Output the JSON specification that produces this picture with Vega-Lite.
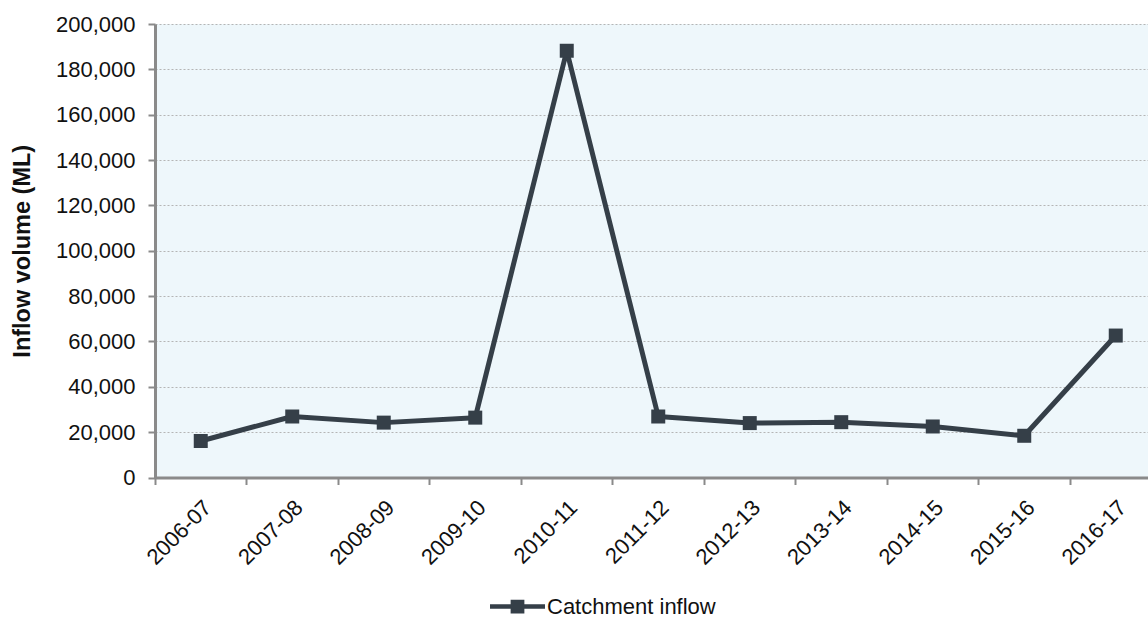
{
  "$schema": "https://vega.github.io/schema/vega-lite/v6.json",
  "autosize": {"type": "none"},
  "padding": {"left": 155, "top": 24, "right": 0, "bottom": 140},
  "width": 1006.5,
  "height": 453.5,
  "background": "white",
  "config": {
    "view": {"fill": "#eef7fb", "stroke": null},
    "font": "Liberation Sans"
  },
  "data": {
    "values": [
      {"year": "2006-07", "inflow": 16100, "series": "Catchment inflow"},
      {"year": "2007-08", "inflow": 26900, "series": "Catchment inflow"},
      {"year": "2008-09", "inflow": 24200, "series": "Catchment inflow"},
      {"year": "2009-10", "inflow": 26400, "series": "Catchment inflow"},
      {"year": "2010-11", "inflow": 188200, "series": "Catchment inflow"},
      {"year": "2011-12", "inflow": 26900, "series": "Catchment inflow"},
      {"year": "2012-13", "inflow": 24000, "series": "Catchment inflow"},
      {"year": "2013-14", "inflow": 24400, "series": "Catchment inflow"},
      {"year": "2014-15", "inflow": 22500, "series": "Catchment inflow"},
      {"year": "2015-16", "inflow": 18400, "series": "Catchment inflow"},
      {"year": "2016-17", "inflow": 62600, "series": "Catchment inflow"}
    ]
  },
  "encoding": {
    "x": {
      "field": "year",
      "type": "ordinal",
      "scale": {"type": "band", "paddingInner": 0, "paddingOuter": 0},
      "axis": {
        "title": null,
        "bandPosition": 0,
        "labelAngle": -45,
        "labelFontSize": 22,
        "labelColor": "#111111",
        "labelPadding": 12,
        "tickSize": 7,
        "tickColor": "#8a8a8a",
        "tickWidth": 2,
        "domainColor": "#8a8a8a",
        "domainWidth": 3,
        "grid": false
      }
    },
    "y": {
      "field": "inflow",
      "type": "quantitative",
      "scale": {"domain": [0, 200000], "nice": false},
      "axis": {
        "title": "Inflow volume (ML)",
        "titleFontSize": 23.5,
        "titleFontWeight": "bold",
        "titleColor": "#111111",
        "titlePadding": 21,
        "values": [0, 20000, 40000, 60000, 80000, 100000, 120000, 140000, 160000, 180000, 200000],
        "format": ",.0f",
        "labelFontSize": 22,
        "labelColor": "#111111",
        "labelPadding": 13,
        "tickSize": 7,
        "tickColor": "#8a8a8a",
        "tickWidth": 2,
        "domainColor": "#8a8a8a",
        "domainWidth": 3,
        "grid": true,
        "gridColor": "#b5b5b5",
        "gridDash": [2, 2],
        "gridWidth": 1
      }
    }
  },
  "layer": [
    {
      "mark": {"type": "line", "color": "#353f48", "strokeWidth": 5, "strokeJoin": "round"},
      "encoding": {}
    },
    {
      "mark": {"type": "point", "shape": "square", "filled": true, "size": 196, "opacity": 1},
      "encoding": {
        "color": {
          "field": "series",
          "type": "nominal",
          "scale": {"range": ["#353f48"]},
          "legend": {
            "title": null,
            "orient": "none",
            "legendX": 335,
            "legendY": 555,
            "padding": 0,
            "labelFontSize": 22,
            "labelLimit": 0,
            "labelColor": "#111111",
            "labelOffset": 2,
            "symbolType": "M-1,-0.08H1V0.08H-1Z M-0.25,-0.25H0.25V0.25H-0.25Z",
            "symbolSize": 3025,
            "symbolStrokeWidth": 0,
            "symbolOpacity": 1
          }
        }
      }
    }
  ]
}
